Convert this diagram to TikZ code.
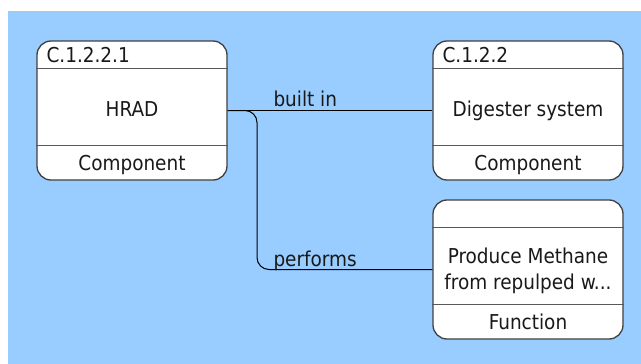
\documentclass[tikz,border=0pt]{standalone}
\usepackage{fontspec}
\setmainfont{DejaVu Sans Condensed}
\begin{document}
\begin{tikzpicture}[x=1pt,y=-1pt,
  every node/.style={font=\fontsize{20.5}{26}\selectfont, text=black!90, inner sep=0pt},
  card/.style={draw=black!75, line width=1.3pt, fill=white, rounded corners=14pt,
    minimum width=190pt, minimum height=139pt},
  divider/.style={draw=black!65, line width=1pt},
  conn/.style={draw=black, line width=1pt},
  idtext/.style={anchor=base west},
  midtext/.style={anchor=base},
  kindtext/.style={anchor=base},
  linklabel/.style={anchor=base west}
]
\definecolor{bgblue}{RGB}{153,204,255}
\useasboundingbox (0,0) rectangle (641,364);
\fill[bgblue] (8,11) rectangle (641,364);

% cards
\node[card] (A) at (132,110.5) {};
\node[card] (B) at (528,110.5) {};
\node[card] (C) at (528,269.5) {};

% header and footer dividers
\foreach \n in {A,B,C}{
  \draw[divider] ([yshift=-28pt]\n.north west) -- ([yshift=-28pt]\n.north east);
  \draw[divider] ([yshift=-105.5pt]\n.north west) -- ([yshift=-105.5pt]\n.north east);
}

% card texts
\node[idtext] (Aid) at ([xshift=10pt,yshift=-22pt]A.north west) {C.1.2.2.1};
\node[midtext] (Amid) at ([yshift=-6.2pt]A.center) {HRAD};
\node[kindtext] (Akind) at ([yshift=-130.5pt]A.north) {Component};

\node[idtext] (Bid) at ([xshift=10pt,yshift=-22pt]B.north west) {C.1.2.2};
\node[midtext] (Bmid) at ([yshift=-6.2pt]B.center) {Digester system};
\node[kindtext] (Bkind) at ([yshift=-130.5pt]B.north) {Component};

\node[midtext] (Cmid1) at ([yshift=6.2pt]C.center) {Produce Methane};
\node[midtext] (Cmid2) at ([yshift=-19.8pt]C.center) {from repulped w...};
\node[kindtext] (Ckind) at ([yshift=-130pt]C.north) {Function};

% connectors
\coordinate (bend) at (257,0);
\draw[conn] (A.east) -- (B.west);
\draw[conn, rounded corners=12pt] (A.east) -| (bend |- C.west) -- (C.west);

\node[linklabel] (lbuilt) at (273.3,106.7) {built in};
\node[linklabel] (lperf) at (273.3,266) {performs};
\end{tikzpicture}
\end{document}
